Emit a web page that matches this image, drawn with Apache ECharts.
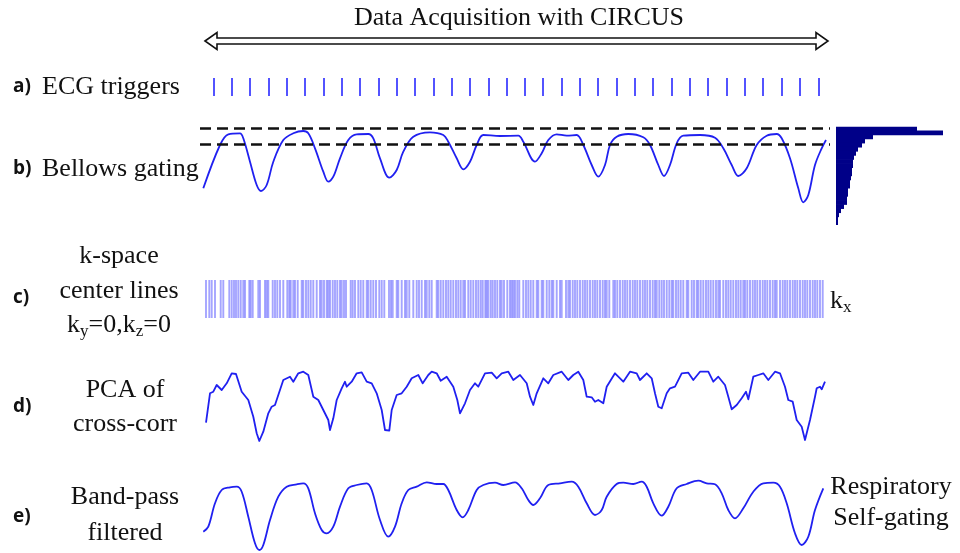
<!DOCTYPE html>
<html>
<head>
<meta charset="utf-8">
<script src="https://cdn.jsdelivr.net/npm/echarts@6/dist/echarts.min.js"></script>
<style>
  html, body { margin: 0; padding: 0; background: #fff; }
  #chart-container { width: 960px; height: 553px; }
</style>
</head>
<body>
<div id="chart-container"></div>
<script>
// time axis: sample index along the acquisition (0..630)
const ecgTriggers = [14, 32, 50, 69, 87, 105, 124, 142, 160, 179, 197, 215, 234, 252, 270, 289, 307,
  325, 343, 362, 380, 398, 417, 435, 453, 472, 490, 508, 527, 545, 563, 582, 600, 619];

const bellows = [[3.3, 21.7], [20, 65], [28.3, 75.7], [40, 76.7], [43.3, 71.7], [50, 48.3], [56.7, 25],
  [61, 19], [66.7, 25], [73.3, 48.3], [83.3, 70], [93.3, 76.7], [103.3, 79], [108.3, 76.7], [115, 61.7],
  [123.3, 38.3], [128.3, 28.3], [133.3, 33.3], [140, 51.7], [148.3, 70], [156.7, 75.7], [168.3, 76],
  [173.3, 71.7], [180, 51.7], [189.3, 32.3], [196.7, 40], [203.3, 58.3], [213.3, 73.3], [230, 77.7],
  [243.3, 75], [248.3, 68.3], [256.7, 51.7], [263.3, 40.7], [270, 48.3], [276.7, 65], [283.3, 75],
  [300, 74], [318.3, 74.3], [323.3, 68.3], [335, 48.3], [341.7, 56.7], [348.3, 70], [356.7, 75.7],
  [366.7, 74.3], [376.7, 75], [383.3, 65], [391.7, 45], [398.3, 33.3], [405, 45], [410, 65], [416.7, 73.3],
  [428.3, 76], [443.3, 72.7], [450, 65], [458.3, 45], [464, 34], [470, 45], [476.7, 66.7], [483.3, 74.3],
  [500, 75], [515, 72.3], [523.3, 61.7], [531.7, 45], [538.3, 34], [546.7, 41.7], [556.7, 65],
  [566.7, 74.3], [576.7, 76], [581.7, 71.7], [590, 51.7], [598.3, 21.7], [603.3, 7.7], [608.3, 15],
  [615, 45], [621.7, 61.7], [626, 70]];

const gatingWindow = [66, 81.7];

const histCounts = [81, 107, 37, 29, 26, 22, 20, 18, 17, 17, 16, 16, 15, 14, 14, 12, 12, 11, 11, 8, 5, 3, 2, 2];

const kspaceLines = [6, 9.3, 11.7, 15, 20.7, 23.3, 29.3, 31.7, 34, 36, 38.3, 40.7, 43.3, 45, 49.3, 50.7,
  52.7, 58.3, 60, 65, 66.7, 68.3, 72.7, 75, 77.3, 80, 83.3, 87.3, 89.3, 90.7, 93.3, 95, 97.7, 101.7, 103.3,
  106, 108.3, 110.7, 113.3, 116.7, 120, 121.7, 124, 126.7, 128.3, 130, 132.7, 135, 137.3, 140, 141.7, 144,
  146, 150.7, 152.7, 155, 158.3, 160.7, 163.3, 166.7, 168.3, 170.7, 173.3, 176, 179.3, 181.7, 184.3, 189,
  191, 192.7, 196.7, 198.3, 201.7, 205, 206.7, 209.3, 213.3, 216.7, 219, 221.7, 225, 226.7, 229.3, 231.7,
  236.7, 238.3, 240.7, 243.3, 246, 248.3, 250.7, 253.3, 256, 258.3, 260.7, 263.3, 265, 268.3, 270.7,
  273.3, 276, 278.3, 280.7, 282.7, 285.3, 286.7, 288.3, 290.7, 292.7, 295, 297.3, 300, 301.7, 304, 307.3,
  310, 311.7, 313.3, 315, 317.3, 319.3, 323.3, 326, 328.3, 330.7, 333.3, 336.7, 338.3, 341.7, 343.3,
  346.7, 349.3, 351.7, 353.3, 356.7, 360, 361.7, 366, 368.3, 370, 372.7, 375, 377.3, 380, 382.7, 385,
  387.3, 390, 392.7, 395, 397.3, 400, 402.7, 405, 406.7, 409.3, 413.3, 415, 417.3, 420, 422.7, 425, 427.3,
  430, 432.7, 435, 437.3, 440, 442.7, 445, 447.3, 450, 452.7, 455, 456.7, 459.3, 461.7, 464, 466.7, 469.3,
  471.7, 473.3, 476, 478.3, 480.7, 483.3, 486.7, 488.3, 491.7, 494, 496.7, 498.3, 500.7, 503.3, 506,
  508.3, 510.7, 513.3, 516, 518.3, 520, 523.3, 526, 528.3, 530.7, 533.3, 536, 538.3, 540.7, 543.3, 545,
  547.3, 550, 552.7, 555, 557.3, 560, 562.7, 565, 567.3, 570, 572.7, 575, 576.7, 580, 582.7, 585, 587.3,
  590, 592.7, 595, 597.3, 600, 602.7, 605, 607.3, 610, 612.7, 615, 617.3, 620, 622.7];

const pcaCrossCorr = [[6, 27.3], [10, 56.7], [13.3, 58.3], [16.7, 65], [21.7, 60], [26.7, 66.7], [31.7, 76.7],
  [36, 76], [41.7, 58.3], [48.3, 50], [53.3, 33.3], [56.7, 16.7], [59.3, 9], [63.3, 18.3], [68.3, 36.7],
  [71.7, 43.3], [75, 45], [78.3, 55], [83.3, 70], [90, 73.3], [93.3, 68.3], [98.3, 76.7], [103.3, 78.3],
  [108.3, 75], [113.3, 53.3], [118.3, 50], [123.3, 40], [128.3, 30], [130, 20], [133.3, 31.7], [136.7, 50],
  [141.7, 61.7], [145, 68.3], [146.7, 63.3], [151.7, 68.3], [156.7, 76.7], [161.7, 77.7], [166.7, 68.3],
  [171.7, 66.7], [176.7, 56.7], [181.7, 40], [185, 20], [189.3, 19.3], [191.7, 40], [196.7, 55],
  [201.7, 56.7], [206.7, 63.3], [211.7, 71.7], [218.3, 75], [222.7, 66.7], [228.3, 75], [231.7, 78.3],
  [236.7, 76.7], [240.7, 69.3], [246.7, 73.3], [253.3, 63.3], [257.3, 50], [260, 36.7], [265, 46.7],
  [270, 60], [275, 66.7], [278.3, 63.3], [285, 76.7], [291.7, 77.3], [296.7, 71.7], [301.7, 76.7],
  [308.3, 78.3], [313.3, 70], [320, 75], [326.7, 66.7], [330, 53.3], [333.3, 45], [336.7, 56.7],
  [343.3, 71.7], [348.3, 66.7], [353.3, 75], [361.7, 78.3], [368.3, 70], [373.3, 75], [378.3, 78.3],
  [383.3, 70], [386.7, 53.3], [391.7, 52.7], [395, 48.3], [398.3, 50], [403.3, 46.7], [406.7, 63.3],
  [415, 76.7], [423.3, 68.3], [430, 78.3], [436.7, 76.7], [440, 70], [446.7, 76.7], [451.7, 71.7],
  [455, 56.7], [458.3, 43.3], [461.7, 41.7], [466.7, 56.7], [470, 61.7], [475, 63.3], [481.7, 76.7],
  [488.3, 77.3], [493.3, 70], [500, 78.3], [508.3, 78.3], [513.3, 68.3], [518.3, 73.3], [525, 65],
  [528.3, 53.3], [531.7, 40.7], [536.7, 45], [541.7, 51.7], [546, 58.3], [548.3, 50.7], [553.3, 73.3],
  [558.3, 75], [563.3, 76.7], [568.3, 70], [575, 78.3], [580, 76.7], [585, 63.3], [588.3, 50],
  [592.7, 48.3], [596.7, 30], [601.7, 23.3], [605, 10], [610, 30], [615, 53.3], [616.7, 61.7], [620, 63.3],
  [621.7, 60.7], [625, 68.3]];

const bandPass = [[3.3, 21.3], [8.3, 26.3], [15, 49.7], [21.7, 63], [30, 65.7], [36.7, 66.3], [41.7, 61.3],
  [48.3, 36.3], [55, 9.7], [59.3, 3], [63.3, 8], [70, 33], [78.3, 56.3], [86.7, 66.3], [96.7, 68.7],
  [103.3, 69.7], [108.3, 64.7], [115, 39.7], [121.7, 23], [126.7, 19.7], [133.3, 26.3], [140, 46.3],
  [148.3, 64.7], [156.7, 68], [166.7, 69.7], [171.7, 63], [180, 33], [188.3, 16.3], [195, 26.3],
  [201.7, 49.7], [208.3, 63], [216.7, 66.3], [226.7, 70.7], [236.7, 69], [243.3, 69], [248.3, 63],
  [256.7, 43], [262.7, 35.7], [268.3, 43], [276.7, 63], [283.3, 68], [295, 70.3], [303.3, 68], [315, 70.7],
  [321.7, 64.7], [328.3, 53], [333.3, 48], [340, 54.7], [348.3, 68], [360, 69.7], [371.7, 71.3],
  [378.3, 66.3], [386.7, 49.7], [395, 38], [401.7, 43], [406.7, 56.3], [416.7, 69], [423.3, 70.3],
  [433.3, 69], [441.7, 71.3], [446.7, 66.3], [453.3, 49.7], [461.7, 37.3], [468.3, 46.3], [476.7, 64.7],
  [486.7, 69], [498.3, 72.3], [506.7, 69.7], [515, 68.7], [521.7, 59.7], [528.3, 43], [535, 34.7],
  [543.3, 44.7], [553.3, 61.3], [563.3, 69.7], [573.3, 70.3], [580, 66.3], [586.7, 49.7], [595, 19.7],
  [601.7, 8], [608.3, 16.3], [615, 43], [623.3, 64.7]];

const serif = '"Liberation Serif", "Times New Roman", serif';
const blue = "#2020f0";

const dom = document.getElementById("chart-container");
const myChart = echarts.init(dom, null, { renderer: "canvas" });

function hiddenX(grid, max) {
  return { type: "value", gridIndex: grid, min: 0, max: max, show: false };
}
function hiddenY(grid, max) {
  return { type: "value", gridIndex: grid, min: 0, max: max, show: false };
}

function label(text, x, y, opts) {
  const o = opts || {};
  return {
    type: "text",
    x: x,
    y: y,
    silent: true,
    style: {
      text: text,
      font: o.font || "26px " + serif,
      fill: "#111",
      align: o.align || "left",
      textAlign: o.align || "left",
      verticalAlign: "middle",
      textVerticalAlign: "middle",
      rich: o.rich,
    },
  };
}

const subRich = {
  n: { fontFamily: serif, fontSize: 26, lineHeight: 30, fill: "#111", verticalAlign: "middle" },
  s: { fontFamily: serif, fontSize: 17, lineHeight: 14, fill: "#111", verticalAlign: "bottom" },
};

const bold = 'bold 19px "Open Sans", "Noto Sans", sans-serif';

const option = {
  animation: false,
  backgroundColor: "#fff",
  grid: [
    { left: 200, top: 78, width: 630, height: 18 },
    { left: 200, top: 120, width: 630, height: 90 },
    { left: 836, top: 126.7, width: 110, height: 98.3 },
    { left: 200, top: 280, width: 630, height: 38 },
    { left: 200, top: 360, width: 630, height: 90 },
    { left: 200, top: 465, width: 630, height: 88 },
  ],
  xAxis: [
    hiddenX(0, 630),
    hiddenX(1, 630),
    hiddenX(2, 110),
    hiddenX(3, 630),
    hiddenX(4, 630),
    hiddenX(5, 630),
  ],
  yAxis: [
    hiddenY(0, 1),
    hiddenY(1, 90),
    {
      type: "category",
      gridIndex: 2,
      inverse: true,
      show: false,
      data: histCounts.map((c, i) => "bin" + i),
    },
    hiddenY(3, 1),
    hiddenY(4, 90),
    hiddenY(5, 88),
  ],
  series: [
    {
      name: "ECG triggers",
      type: "bar",
      xAxisIndex: 0,
      yAxisIndex: 0,
      barWidth: 1.7,
      itemStyle: { color: "#3535ff" },
      data: ecgTriggers.map((t) => [t, 1]),
    },
    {
      name: "Bellows gating",
      type: "line",
      xAxisIndex: 1,
      yAxisIndex: 1,
      smooth: 0.35,
      showSymbol: false,
      clip: false,
      lineStyle: { color: blue, width: 1.8 },
      data: bellows,
      markLine: {
        silent: true,
        symbol: "none",
        label: { show: false },
        lineStyle: { color: "#111", width: 2.6, type: [11, 6] },
        data: gatingWindow.map((v) => ({ yAxis: v })),
      },
    },
    {
      name: "Histogram",
      type: "bar",
      xAxisIndex: 2,
      yAxisIndex: 2,
      barWidth: 4.8,
      itemStyle: { color: "#000088" },
      data: histCounts,
    },
    {
      name: "k-space center lines",
      type: "bar",
      xAxisIndex: 3,
      yAxisIndex: 3,
      barWidth: 1.9,
      itemStyle: { color: "#4a4aff", opacity: 0.5 },
      data: kspaceLines.map((t) => [t, 1]),
    },
    {
      name: "PCA of cross-corr",
      type: "line",
      xAxisIndex: 4,
      yAxisIndex: 4,
      showSymbol: false,
      clip: false,
      lineStyle: { color: blue, width: 1.8, join: "round" },
      data: pcaCrossCorr,
    },
    {
      name: "Band-pass filtered",
      type: "line",
      xAxisIndex: 5,
      yAxisIndex: 5,
      smooth: 0.35,
      showSymbol: false,
      clip: false,
      lineStyle: { color: blue, width: 1.8 },
      data: bandPass,
    },
  ],
  graphic: [
    label("Data Acquisition with CIRCUS", 519, 18, { align: "center" }),
    {
      type: "polygon",
      silent: true,
      shape: {
        points: [[205, 41], [217, 32.5], [217, 38], [816, 38], [816, 32.5], [828, 41],
          [816, 49.5], [816, 44], [217, 44], [217, 49.5]],
      },
      style: { fill: "#fff", stroke: "#111", lineWidth: 1.6 },
    },
    label("a)", 13, 87, { font: bold }),
    label("ECG triggers", 42, 87),
    label("b)", 13, 169, { font: bold }),
    label("Bellows gating", 42, 169),
    label("c)", 13, 298, { font: bold }),
    label("k-space", 119, 256, { align: "center" }),
    label("center lines", 119, 291, { align: "center" }),
    label("{n|k}{s|y}{n|=0,k}{s|z}{n|=0}", 119, 325, { align: "center", rich: subRich }),
    label("{n|k}{s|x}", 830, 301, { rich: subRich }),
    label("d)", 13, 407, { font: bold }),
    label("PCA of", 125, 390, { align: "center" }),
    label("cross-corr", 125, 424, { align: "center" }),
    label("e)", 13, 517, { font: bold }),
    label("Band-pass", 125, 497, { align: "center" }),
    label("filtered", 125, 533, { align: "center" }),
    label("Respiratory", 891, 487, { align: "center" }),
    label("Self-gating", 891, 518, { align: "center" }),
  ],
};

if (option && typeof option === "object") {
  myChart.setOption(option);
}

window.addEventListener("resize", myChart.resize);
</script>
</body>
</html>
